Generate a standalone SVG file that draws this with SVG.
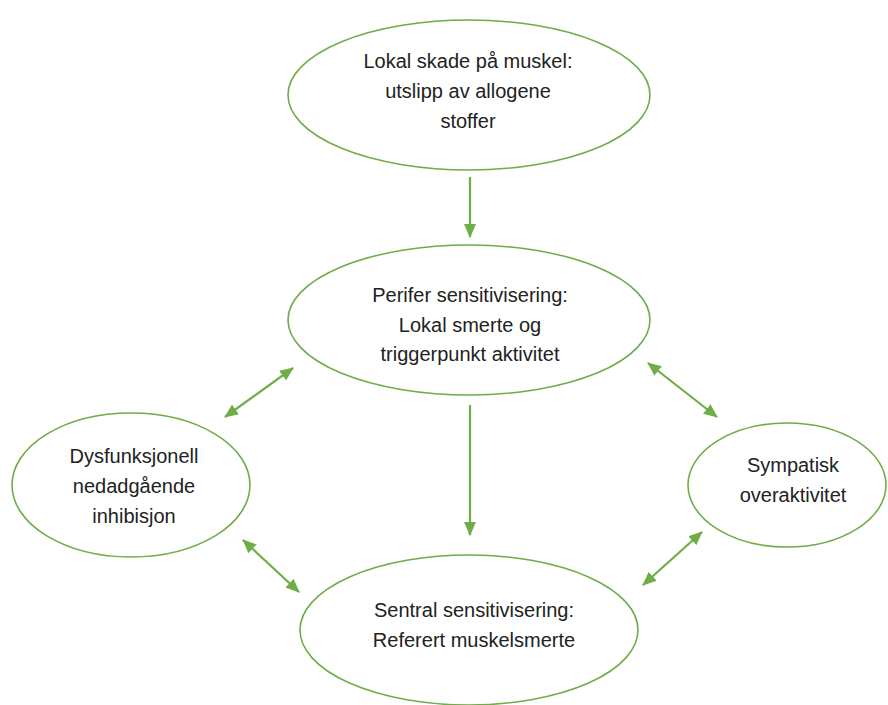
<svg xmlns="http://www.w3.org/2000/svg" width="888" height="705" viewBox="0 0 888 705">
<style>
.n{fill:#fff;stroke:#70AD47;stroke-width:1.6}
.t{font-family:"Liberation Sans",Arial,sans-serif;font-size:20px;fill:#222;text-anchor:middle}
.c{stroke:#70AD47;stroke-width:2.2;fill:none}
</style>
<defs>
<marker id="ah" viewBox="0 0 14 12" refX="13" refY="6" markerWidth="14" markerHeight="12" markerUnits="userSpaceOnUse" orient="auto-start-reverse">
<path d="M0,0 L14,6 L0,12 Z" fill="#70AD47"/>
</marker>
</defs>
<rect width="888" height="705" fill="#fff"/>
<g id="connectors">
<line class="c" x1="470" y1="177" x2="470" y2="237" marker-end="url(#ah)"/>
<line class="c" x1="470" y1="405" x2="470" y2="535" marker-end="url(#ah)"/>
<line class="c" x1="225" y1="417" x2="293" y2="368" marker-start="url(#ah)" marker-end="url(#ah)"/>
<line class="c" x1="648" y1="363" x2="717" y2="417" marker-start="url(#ah)" marker-end="url(#ah)"/>
<line class="c" x1="243" y1="540" x2="299" y2="592" marker-start="url(#ah)" marker-end="url(#ah)"/>
<line class="c" x1="702" y1="532" x2="643" y2="585" marker-start="url(#ah)" marker-end="url(#ah)"/>
</g>
<g id="node-lokal">
<ellipse class="n" cx="469" cy="95" rx="181" ry="75"/>
<text class="t" x="468" y="68">Lokal skade på muskel:</text>
<text class="t" x="468" y="98">utslipp av allogene</text>
<text class="t" x="468" y="128">stoffer</text>
</g>
<g id="node-perifer">
<ellipse class="n" cx="469" cy="320" rx="181" ry="75"/>
<text class="t" x="470" y="302">Perifer sensitivisering:</text>
<text class="t" x="470" y="332">Lokal smerte og</text>
<text class="t" x="470" y="361">triggerpunkt aktivitet</text>
</g>
<g id="node-dysfunksjonell">
<ellipse class="n" cx="131" cy="485" rx="119" ry="72"/>
<text class="t" x="134" y="463">Dysfunksjonell</text>
<text class="t" x="134" y="493">nedadgående</text>
<text class="t" x="134" y="523">inhibisjon</text>
</g>
<g id="node-sympatisk">
<ellipse class="n" cx="787" cy="485" rx="99" ry="62"/>
<text class="t" x="793" y="472">Sympatisk</text>
<text class="t" x="793" y="502">overaktivitet</text>
</g>
<g id="node-sentral">
<ellipse class="n" cx="469" cy="630" rx="169" ry="75"/>
<text class="t" x="474" y="617">Sentral sensitivisering:</text>
<text class="t" x="474" y="647">Referert muskelsmerte</text>
</g>
</svg>
